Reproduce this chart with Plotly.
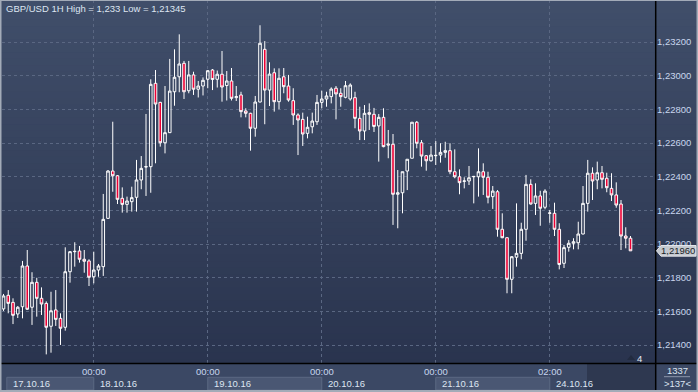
import plotly.graph_objects as go

# ---------------- data (GBP/USD, 1H) ----------------
opens = [1.21615,1.21696,1.21654,1.21585,1.21628,1.21870,1.21625,1.21773,1.21678,1.21648,
         1.21512,1.21609,1.21559,1.21506,1.21836,1.21955,1.21959,1.21910,1.21900,1.21806,
         1.21846,1.21866,1.22153,1.22434,1.22406,1.22272,1.22236,1.22252,1.22278,1.22381,
         1.22458,1.22460,1.22955,1.22842,1.22602,1.22662,1.22905,1.22994,1.23074,1.22911,
         1.23005,1.22920,1.22939,1.22979,1.23034,1.22979,1.23009,1.22942,1.22969,1.22870,
         1.22886,1.22791,1.22777,1.22688,1.22844,1.23157,1.22915,1.23018,1.22846,1.22994,
         1.22939,1.22852,1.22767,1.22741,1.22658,1.22697,1.22727,1.22842,1.22862,1.22876,
         1.22926,1.22896,1.22872,1.22862,1.22870,1.22747,1.22672,1.22781,1.22771,1.22702,
         1.22753,1.22595,1.22593,1.22296,1.22305,1.22434,1.22510,1.22724,1.22602,1.22525,
         1.22495,1.22525,1.22529,1.22545,1.22555,1.22430,1.22400,1.22373,1.22375,1.22400,
         1.22400,1.22430,1.22397,1.22282,1.22311,1.22088,1.22038,1.21791,1.21922,1.21945,
         1.22088,1.22355,1.22242,1.22286,1.22219,1.22183,1.22183,1.22088,1.21886,1.21981,
         1.22005,1.22008,1.22060,1.22242,1.22421,1.22381,1.22424,1.22391,1.22331,1.22292,
         1.22238,1.22048,1.22035]
highs = [1.21704,1.21727,1.21678,1.21632,1.21900,1.21965,1.21833,1.21800,1.21743,1.21660,
         1.21717,1.21727,1.21589,1.21981,1.21959,1.22011,1.21989,1.21965,1.21910,1.21955,
         1.21882,1.22298,1.22440,1.22727,1.22410,1.22337,1.22282,1.22341,1.22500,1.22523,
         1.22773,1.22979,1.23034,1.22845,1.22939,1.23100,1.23157,1.23246,1.23088,1.23088,
         1.23024,1.22969,1.22990,1.23034,1.23040,1.23031,1.23147,1.23028,1.23046,1.22939,
         1.22905,1.22807,1.22780,1.22880,1.23300,1.23206,1.23080,1.23044,1.23044,1.23046,
         1.23005,1.22926,1.22777,1.22781,1.22757,1.22781,1.22886,1.22911,1.22905,1.22931,
         1.22939,1.22926,1.22969,1.22955,1.22905,1.22816,1.22826,1.22836,1.22809,1.22773,
         1.22807,1.22678,1.22654,1.22440,1.22430,1.22504,1.22724,1.22731,1.22618,1.22529,
         1.22583,1.22612,1.22599,1.22608,1.22599,1.22563,1.22444,1.22397,1.22464,1.22405,
         1.22569,1.22480,1.22430,1.22345,1.22321,1.22183,1.22040,1.21929,1.22242,1.22127,
         1.22411,1.22385,1.22361,1.22317,1.22326,1.22203,1.22246,1.22124,1.21995,1.22024,
         1.22035,1.22133,1.22345,1.22500,1.22456,1.22490,1.22464,1.22424,1.22421,1.22367,
         1.22262,1.22100,1.22048]
lows = [1.21603,1.21589,1.21525,1.21561,1.21559,1.21609,1.21520,1.21569,1.21579,1.21345,
        1.21355,1.21514,1.21401,1.21486,1.21771,1.21866,1.21890,1.21830,1.21751,1.21767,
        1.21806,1.21811,1.22149,1.22311,1.22238,1.22187,1.22187,1.22193,1.22193,1.22326,
        1.22286,1.22305,1.22480,1.22579,1.22539,1.22660,1.22822,1.22902,1.22862,1.22896,
        1.22886,1.22871,1.22883,1.22926,1.22915,1.22930,1.22846,1.22853,1.22853,1.22850,
        1.22753,1.22753,1.22555,1.22638,1.22842,1.22712,1.22820,1.22787,1.22801,1.22896,
        1.22846,1.22708,1.22529,1.22583,1.22628,1.22658,1.22708,1.22807,1.22816,1.22836,
        1.22741,1.22816,1.22866,1.22852,1.22688,1.22618,1.22618,1.22678,1.22666,1.22490,
        1.22575,1.22510,1.22114,1.22094,1.22183,1.22321,1.22510,1.22569,1.22460,1.22436,
        1.22490,1.22470,1.22484,1.22513,1.22415,1.22391,1.22296,1.22331,1.22351,1.22242,
        1.22282,1.22292,1.22242,1.22209,1.22044,1.22035,1.21708,1.21708,1.21866,1.21910,
        1.22020,1.22235,1.22173,1.22109,1.22207,1.22127,1.22048,1.21850,1.21858,1.21955,
        1.21969,1.21969,1.22058,1.22193,1.22262,1.22326,1.22331,1.22308,1.22256,1.22216,
        1.21965,1.21975,1.21960]
closes = [1.21692,1.21648,1.21577,1.21625,1.21870,1.21613,1.21773,1.21678,1.21644,1.21506,
          1.21604,1.21553,1.21500,1.21836,1.21955,1.21957,1.21910,1.21898,1.21803,1.21846,
          1.21870,1.22147,1.22434,1.22406,1.22266,1.22236,1.22256,1.22276,1.22381,1.22450,
          1.22460,1.22949,1.22832,1.22602,1.22662,1.22909,1.22991,1.23070,1.22905,1.23005,
          1.22920,1.22939,1.22973,1.23030,1.22978,1.23009,1.22933,1.22969,1.22866,1.22876,
          1.22787,1.22777,1.22688,1.22844,1.23193,1.22915,1.23010,1.22846,1.22985,1.22935,
          1.22856,1.22767,1.22737,1.22654,1.22694,1.22731,1.22842,1.22862,1.22880,1.22921,
          1.22892,1.22876,1.22941,1.22945,1.22747,1.22672,1.22777,1.22771,1.22699,1.22753,
          1.22579,1.22589,1.22296,1.22305,1.22430,1.22504,1.22724,1.22599,1.22523,1.22495,
          1.22529,1.22527,1.22545,1.22555,1.22430,1.22400,1.22365,1.22375,1.22394,1.22402,
          1.22430,1.22397,1.22278,1.22315,1.22088,1.22038,1.21791,1.21925,1.21945,1.22088,
          1.22355,1.22238,1.22286,1.22213,1.22315,1.22185,1.22088,1.21879,1.21979,1.22005,
          1.22014,1.22060,1.22242,1.22421,1.22375,1.22424,1.22385,1.22335,1.22292,1.22232,
          1.22048,1.22035,1.21960]

time_tick_idx = [19, 43, 67, 91, 115]
time_tick_text = ["00:00", "00:00", "00:00", "00:00", "02:00"]
date_labels = ["17.10.16", "18.10.16", "19.10.16", "20.10.16", "21.10.16", "24.10.16"]
date_start_idx = [0.7, 19, 43, 67, 91, 115]
y_ticks = [1.214, 1.216, 1.218, 1.220, 1.222, 1.224, 1.226, 1.228, 1.230, 1.232]
title_text = "GBP/USD 1H High = 1,233 Low = 1,21345"
bars_total = "1337"
bars_visible = ">137<"

# ---------------- layout helpers ----------------
W, H = 698, 392
ML, MR, MT, MB = 2, 42, 0, 29
PW, PH = W - ML - MR, H - MT - MB


def px(x):
    return (x - ML) / PW


def py(y):
    return (H - MB - y) / PH


FONT = "Liberation Sans, Arial, sans-serif"
LABEL_COL = "#c9d6ee"
x = list(range(len(opens)))

fig = go.Figure(go.Candlestick(
    x=x, open=opens, high=highs, low=lows, close=closes,
    increasing=dict(line=dict(color="#ffffff", width=1), fillcolor="rgba(0,0,0,0)"),
    decreasing=dict(line=dict(color="#ffffff", width=1), fillcolor="#ec0034"),
    whiskerwidth=0, hoverinfo="skip",
))

shapes = []
# background gradient
N = 60
top, bot = (64, 78, 106), (40, 50, 76)
for i in range(N):
    t = i / (N - 1)
    c = tuple(round(top[k] + (bot[k] - top[k]) * t) for k in range(3))
    y0 = i * H / N
    y1 = (i + 1) * H / N + 0.6
    shapes.append(dict(type="rect", xref="paper", yref="paper", x0=px(0), x1=px(W),
                       y0=py(y1), y1=py(y0), line=dict(width=0),
                       fillcolor="rgb(%d,%d,%d)" % c, layer="below"))
# bottom time strip
shapes.append(dict(type="rect", xref="paper", yref="paper", x0=px(0), x1=px(W),
                   y0=py(H), y1=py(363.5), line=dict(width=0), fillcolor="#3b4864", layer="below"))
# date boxes (alternate days)
for i in (0, 2, 4):
    shapes.append(dict(type="rect", xref="x", yref="paper", x0=date_start_idx[i],
                       x1=date_start_idx[i + 1], y0=py(390), y1=py(377.3),
                       line=dict(width=1, color="#5b6882"), fillcolor="#4a5773", layer="below"))
# dark future strip
shapes.append(dict(type="rect", xref="paper", yref="paper", x0=px(587), x1=px(655.5),
                   y0=py(390), y1=py(364), line=dict(width=0), fillcolor="#2e3850", layer="below"))
# black separators
shapes.append(dict(type="line", xref="paper", yref="paper", x0=px(655.7), x1=px(655.7),
                   y0=py(H), y1=py(0), line=dict(color="#000000", width=1.5)))
shapes.append(dict(type="line", xref="paper", yref="paper", x0=px(0), x1=px(W),
                   y0=py(363.5), y1=py(363.5), line=dict(color="#000000", width=1.5)))
# right bottom divider line
shapes.append(dict(type="line", xref="paper", yref="paper", x0=px(664), x1=px(690),
                   y0=py(376.7), y1=py(376.7), line=dict(color="#8d97aa", width=1)))
# outer frame
shapes.append(dict(type="rect", xref="paper", yref="paper", x0=px(0.5), x1=px(W - 0.5),
                   y0=py(H - 1), y1=py(0), line=dict(color="#a3abb8", width=2),
                   fillcolor="rgba(0,0,0,0)"))
# last price marker
yl = closes[-1]
shapes.append(dict(type="path", xref="paper", yref="y",
                   path="M %f,%f L %f,%f L %f,%f L %f,%f L %f,%f Z" % (
                       px(656.5), yl, px(661), yl + 0.000315, px(696), yl + 0.000315,
                       px(696), yl - 0.000315, px(661), yl - 0.000315),
                   line=dict(color="#e6e8ec", width=1), fillcolor="#c4c8cf", layer="above"))
# small triangle near "4"
shapes.append(dict(type="path", xref="paper", yref="paper",
                   path="M %f,%f L %f,%f L %f,%f Z" % (px(627), py(360), px(635), py(360),
                                                       px(631), py(355)),
                   line=dict(width=0), fillcolor="#222b40", layer="above"))

annotations = [
    dict(text=title_text, xref="paper", yref="paper", x=px(4), y=py(8.5), xanchor="left",
         yanchor="middle", showarrow=False, font=dict(family=FONT, size=9.5, color="#dde5f2")),
    dict(text=("%.5f" % yl).replace(".", ","), xref="paper", yref="y", x=px(678), y=yl,
         xanchor="center", yanchor="middle", showarrow=False,
         font=dict(family=FONT, size=9.5, color="#1a1e28")),
    dict(text="4", xref="paper", yref="paper", x=px(639.5), y=py(358), xanchor="center",
         yanchor="middle", showarrow=False, font=dict(family=FONT, size=9.5, color="#e8ecf4")),
    dict(text=bars_total, xref="paper", yref="paper", x=px(677), y=py(370), xanchor="center",
         yanchor="middle", showarrow=False, font=dict(family=FONT, size=9.5, color="#dde5f2")),
    dict(text=bars_visible, xref="paper", yref="paper", x=px(677), y=py(383.5), xanchor="center",
         yanchor="middle", showarrow=False, font=dict(family=FONT, size=9.5, color="#dde5f2")),
]
for i, lab in enumerate(date_labels):
    annotations.append(dict(text=lab, xref="x", yref="paper", x=date_start_idx[i], y=py(383),
                            xanchor="left", yanchor="middle", xshift=4, showarrow=False,
                            font=dict(family=FONT, size=9.5, color="#dde5f2")))
for xi, t in zip(time_tick_idx, time_tick_text):
    annotations.append(dict(text=t, xref="x", yref="paper", x=xi, y=py(371.5),
                            xanchor="center", yanchor="middle", showarrow=False,
                            font=dict(family=FONT, size=9.5, color=LABEL_COL)))

x_lo = -(1.5 / 4.75)
fig.update_layout(
    width=W, height=H, margin=dict(l=ML, r=MR, t=MT, b=MB, pad=0),
    paper_bgcolor="#343f5c", plot_bgcolor="rgba(0,0,0,0)",
    separators=",.", showlegend=False, boxgap=0.22,
    shapes=shapes, annotations=annotations,
    xaxis=dict(range=[x_lo, x_lo + PW / 4.75], tickmode="array", tickvals=time_tick_idx,
               showticklabels=False, showgrid=True, gridcolor="#5a6782", griddash="dot",
               gridwidth=1, zeroline=False, showline=False, ticks="",
               rangeslider=dict(visible=False), fixedrange=True),
    yaxis=dict(range=[1.2345 - 363 * 0.0000594, 1.2345], side="right", tickmode="array",
               tickvals=y_ticks, tickformat=".5f", showgrid=True, gridcolor="#5a6782",
               griddash="dot", gridwidth=1, zeroline=False, showline=False, ticks="",
               tickfont=dict(family=FONT, size=9.5, color=LABEL_COL), fixedrange=True),
)

fig.write_html("out.html", config={"displayModeBar": False},
               post_script="document.body.style.margin='0';document.body.style.overflow='hidden';")
